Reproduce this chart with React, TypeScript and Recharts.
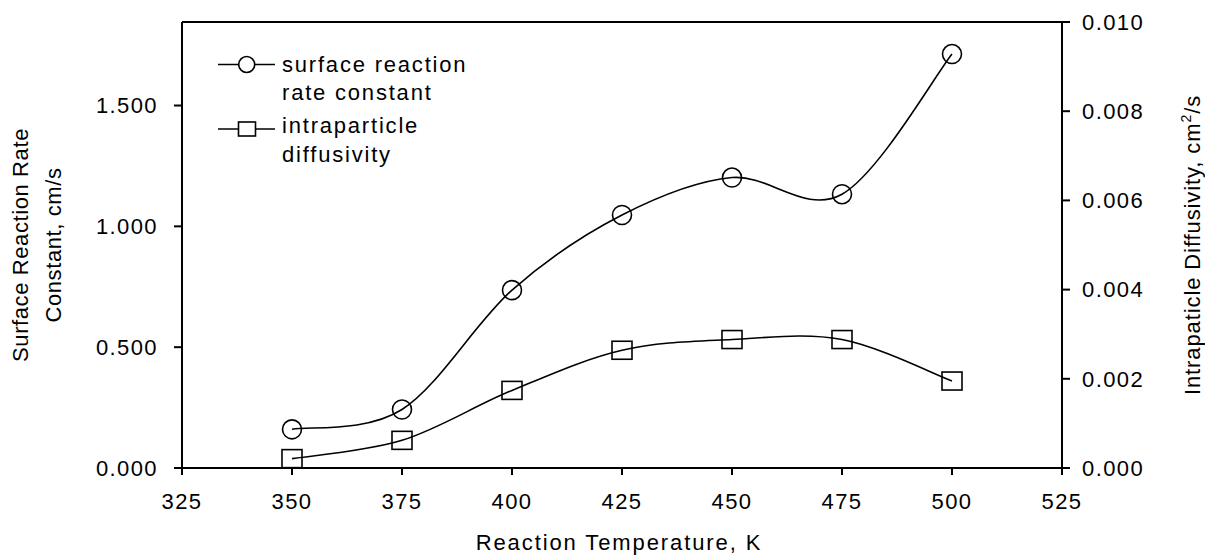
import React from 'react';
import { LineChart, Line, XAxis, YAxis, Label } from 'recharts';

const temperatures = [350, 375, 400, 425, 450, 475, 500];
const rateConstant = [0.16, 0.242, 0.736, 1.047, 1.202, 1.133, 1.713];
const diffusivity = [0.00021, 0.00062, 0.00174, 0.00264, 0.00288, 0.00288, 0.00195];

const xTicks = [325, 350, 375, 400, 425, 450, 475, 500, 525];
const leftTicks = [0, 0.5, 1.0, 1.5];
const rightTicks = [0, 0.002, 0.004, 0.006, 0.008, 0.01];

const chartData = temperatures.map((t, i) => ({
  temp: t,
  rate: rateConstant[i],
  diff: diffusivity[i],
}));

const FONT = '"Liberation Sans", Arial, sans-serif';
const textStyle = { fontFamily: FONT, fontSize: 22, letterSpacing: 1.4, fill: '#000' };

// Catmull-Rom style smoothing, passes through every point (like the original plot's spline)
const smoothCurve = (context: any) => {
  let pts: number[][] = [];
  return {
    areaStart() {},
    areaEnd() {},
    lineStart() {
      pts = [];
    },
    point(x: number, y: number) {
      pts.push([+x, +y]);
    },
    lineEnd() {
      const n = pts.length;
      if (!n) return;
      context.moveTo(pts[0][0], pts[0][1]);
      for (let i = 0; i < n - 1; i++) {
        const p0 = pts[Math.max(i - 1, 0)];
        const p1 = pts[i];
        const p2 = pts[i + 1];
        const p3 = pts[Math.min(i + 2, n - 1)];
        context.bezierCurveTo(
          p1[0] + (p2[0] - p0[0]) / 6,
          p1[1] + (p2[1] - p0[1]) / 6,
          p2[0] - (p3[0] - p1[0]) / 6,
          p2[1] - (p3[1] - p1[1]) / 6,
          p2[0],
          p2[1]
        );
      }
    },
  };
};

const CircleDot = (props: any) => {
  const { cx, cy } = props;
  if (cx == null || cy == null) return null;
  return <circle cx={cx} cy={cy} r={9.5} fill="none" stroke="#000" strokeWidth={1.6} />;
};

const SquareDot = (props: any) => {
  const { cx, cy } = props;
  if (cx == null || cy == null) return null;
  return <rect x={cx - 10} y={cy - 9} width={20} height={18} fill="none" stroke="#000" strokeWidth={1.6} />;
};

const legendText = { ...textStyle, letterSpacing: 1.8 };

const LegendBox = () => (
  <g>
    <line x1={218} x2={275} y1={64.5} y2={64.5} stroke="#000" strokeWidth={1.6} />
    <circle cx={246.7} cy={64.5} r={8} fill="#fff" stroke="#000" strokeWidth={1.6} />
    <text x={282} y={71.5} style={legendText}>surface reaction</text>
    <text x={282} y={100} style={legendText}>rate constant</text>
    <line x1={218} x2={275} y1={129} y2={129} stroke="#000" strokeWidth={1.6} />
    <rect x={238.5} y={122} width={17} height={14} fill="#fff" stroke="#000" strokeWidth={1.6} />
    <text x={282} y={133} style={legendText}>intraparticle</text>
    <text x={282} y={161.5} style={legendText}>diffusivity</text>
  </g>
);

const leftTitleText = { ...textStyle, letterSpacing: 0.6 };
const rightTitleText = { ...textStyle, letterSpacing: 0.9 };
const bottomTitleText = { ...textStyle, letterSpacing: 1.9 };

const LeftTitle = () => (
  <g>
    <text x={28} y={245} textAnchor="middle" transform="rotate(-90, 28, 245)" style={leftTitleText}>
      Surface Reaction Rate
    </text>
    <text x={61} y={245} textAnchor="middle" transform="rotate(-90, 61, 245)" style={leftTitleText}>
      Constant, cm/s
    </text>
  </g>
);

const RightTitle = () => (
  <text x={1200} y={245} textAnchor="middle" transform="rotate(-90, 1200, 245)" style={rightTitleText}>
    Intrapaticle Diffusivity, cm
    <tspan fontSize={14} dy={-9}>2</tspan>
    <tspan dy={9}>/s</tspan>
  </text>
);

const BottomTitle = () => (
  <text x={619} y={550} textAnchor="middle" style={bottomTitleText}>
    Reaction Temperature, K
  </text>
);

const App: React.FC = () => {
  return (
    <div style={{ position: 'absolute', left: 0, top: 0, background: '#fff' }}>
      <LineChart width={1205} height={555} data={chartData} margin={{ top: 21, right: 0, left: 0, bottom: 0 }}>
        <XAxis
          xAxisId="top"
          orientation="top"
          dataKey="temp"
          type="number"
          domain={[325, 525]}
          height={1}
          tick={false}
          tickLine={false}
          axisLine={{ stroke: '#000', strokeWidth: 2 }}
        >
          <Label content={LegendBox} />
        </XAxis>
        <XAxis
          dataKey="temp"
          type="number"
          domain={[325, 525]}
          ticks={xTicks}
          height={87}
          tickSize={7}
          tickMargin={18}
          axisLine={{ stroke: '#000', strokeWidth: 2 }}
          tickLine={{ stroke: '#000', strokeWidth: 2 }}
          tick={textStyle}
        >
          <Label content={BottomTitle} />
        </XAxis>
        <YAxis
          yAxisId="left"
          orientation="left"
          type="number"
          domain={[0, 1.8456]}
          ticks={leftTicks}
          width={182}
          tickSize={8}
          tickMargin={16}
          tickFormatter={(v: number) => v.toFixed(3)}
          axisLine={{ stroke: '#000', strokeWidth: 2 }}
          tickLine={{ stroke: '#000', strokeWidth: 2 }}
          tick={textStyle}
        >
          <Label content={LeftTitle} />
        </YAxis>
        <YAxis
          yAxisId="right"
          orientation="right"
          type="number"
          domain={[0, 0.01]}
          ticks={rightTicks}
          width={143}
          tickSize={8}
          tickMargin={12}
          tickFormatter={(v: number) => v.toFixed(3)}
          axisLine={{ stroke: '#000', strokeWidth: 2 }}
          tickLine={{ stroke: '#000', strokeWidth: 2 }}
          tick={textStyle}
        >
          <Label content={RightTitle} />
        </YAxis>
        <Line
          yAxisId="left"
          type={smoothCurve as any}
          dataKey="rate"
          stroke="#000"
          strokeWidth={1.6}
          dot={<CircleDot />}
          activeDot={false}
          isAnimationActive={false}
        />
        <Line
          yAxisId="right"
          type={smoothCurve as any}
          dataKey="diff"
          stroke="#000"
          strokeWidth={1.6}
          dot={<SquareDot />}
          activeDot={false}
          isAnimationActive={false}
        />
      </LineChart>
    </div>
  );
};

export default App;
